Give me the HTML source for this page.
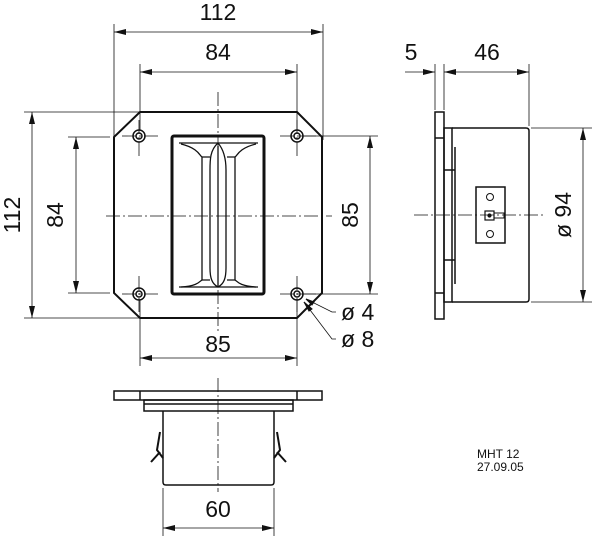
<!DOCTYPE html>
<html><head><style>body{margin:0;background:#fff}svg{display:block}text{font-family:"Liberation Sans",sans-serif;font-size:23px;fill:#111}</style></head>
<body>
<svg width="600" height="548" viewBox="0 0 600 548" xmlns="http://www.w3.org/2000/svg">
<defs>
<marker id="a" viewBox="0 0 12 6" refX="12" refY="3" markerWidth="12" markerHeight="6" orient="auto-start-reverse" markerUnits="userSpaceOnUse"><path d="M0,0L12,3L0,6z" fill="#111"/></marker>
</defs>
<g stroke="#111" fill="none">
<g stroke-width="0.8">
<line x1="114" y1="24" x2="114" y2="140"/><line x1="323" y1="24" x2="323" y2="140"/>
<line x1="140" y1="64" x2="140" y2="130"/><line x1="297" y1="64" x2="297" y2="130"/>
<line x1="24" y1="112" x2="140" y2="112"/><line x1="24" y1="318" x2="140" y2="318"/>
<line x1="68" y1="137" x2="110" y2="137"/><line x1="68" y1="293" x2="110" y2="293"/>
<line x1="300" y1="136" x2="378" y2="136"/><line x1="300" y1="294" x2="378" y2="294"/>
<line x1="140" y1="300" x2="140" y2="366"/><line x1="297" y1="300" x2="297" y2="366"/>
<line x1="435" y1="64" x2="435" y2="110"/><line x1="444" y1="64" x2="444" y2="110"/><line x1="529" y1="64" x2="529" y2="126"/>
<line x1="531" y1="128" x2="592" y2="128"/><line x1="531" y1="302" x2="592" y2="302"/>
<line x1="163" y1="488" x2="163" y2="536"/><line x1="274" y1="488" x2="274" y2="536"/>
</g>
<g stroke-width="0.8">
<line x1="114" y1="32" x2="323" y2="32" marker-start="url(#a)" marker-end="url(#a)"/>
<line x1="140" y1="72" x2="297" y2="72" marker-start="url(#a)" marker-end="url(#a)"/>
<line x1="32" y1="112" x2="32" y2="318" marker-start="url(#a)" marker-end="url(#a)"/>
<line x1="76" y1="137" x2="76" y2="293" marker-start="url(#a)" marker-end="url(#a)"/>
<line x1="370" y1="136" x2="370" y2="294" marker-start="url(#a)" marker-end="url(#a)"/>
<line x1="140" y1="358" x2="297" y2="358" marker-start="url(#a)" marker-end="url(#a)"/>
<line x1="405" y1="72" x2="435" y2="72" marker-end="url(#a)"/>
<line x1="444" y1="72" x2="529" y2="72" marker-start="url(#a)" marker-end="url(#a)"/>
<line x1="583" y1="128" x2="583" y2="302" marker-start="url(#a)" marker-end="url(#a)"/>
<line x1="163" y1="528" x2="274" y2="528" marker-start="url(#a)" marker-end="url(#a)"/>
<polyline points="336,312 332,312 306,299" /><polyline points="336,339 332,339 304,302"/>
</g>
<path d="M306,299l8,3l-2,3z M304,302l8,7l-3,2z" fill="#111"/>
<g stroke-width="0.8" stroke-dasharray="14,3,2,3">
<line x1="106" y1="216" x2="332" y2="216"/><line x1="218" y1="92" x2="218" y2="334"/>
<line x1="122" y1="136" x2="158" y2="136"/><line x1="280" y1="136" x2="316" y2="136"/>
<line x1="122" y1="294" x2="158" y2="294"/><line x1="280" y1="294" x2="316" y2="294"/>
<line x1="139" y1="120" x2="139" y2="158"/><line x1="297" y1="120" x2="297" y2="158"/>
<line x1="139" y1="276" x2="139" y2="312"/><line x1="297" y1="276" x2="297" y2="312"/>
<line x1="414" y1="215" x2="546" y2="215"/>
<line x1="218" y1="378" x2="218" y2="492"/>
</g>
<polygon points="140,112 297,112 322,137 322,293 297,318 140,318 114,293 114,137" stroke-width="2"/>
<rect x="172" y="136" width="92" height="158" rx="2" stroke-width="3"/>
<g stroke-width="1.3">
<path d="M179,143H258 M179,287H258"/>
<path d="M181,144C198,148 200,156 202,157V280C200,281 198,286 181,287"/>
<path d="M256,144C239,148 237,156 235,157V280C237,281 239,286 256,287"/>
<path d="M202,157H210M227,157H235M202,280H210M227,280H235"/>
<path d="M218,143C210,150 210,160 210,170V268C210,278 212,284 218,287C224,284 226,278 226,268V170C226,160 224,150 218,143"/>
<line x1="218" y1="146" x2="218" y2="286"/>
</g>
<g stroke-width="1.5">
<circle cx="139" cy="136" r="6"/><circle cx="139" cy="136" r="3"/>
<circle cx="297" cy="136" r="6"/><circle cx="297" cy="136" r="3"/>
<circle cx="139" cy="294" r="6"/><circle cx="139" cy="294" r="3"/>
<circle cx="297" cy="294" r="6"/><circle cx="297" cy="294" r="3"/>
</g>
<g stroke-width="1.5">
<rect x="435" y="112" width="9" height="207"/>
<line x1="435" y1="138" x2="444" y2="138"/><line x1="435" y1="293" x2="444" y2="293"/>
<rect x="444" y="128" width="8" height="174"/>
<path d="M452,128H526Q529,128 529,131V299Q529,302 526,302H452"/>
<line x1="455" y1="147" x2="455" y2="284"/>
<line x1="444" y1="170" x2="455" y2="170"/><line x1="444" y1="260" x2="455" y2="260"/>
<rect x="476" y="187" width="29" height="56"/>
<circle cx="490" cy="197" r="3.5" stroke-width="1"/><circle cx="490" cy="234" r="3.5" stroke-width="1"/>
<rect x="485" y="211" width="9" height="9" stroke-width="1.2"/>
<rect x="494" y="213" width="10" height="5" stroke-width="1"/>
</g>
<circle cx="489.5" cy="215.5" r="1.6" fill="#111"/>
<g stroke-width="1.5">
<rect x="114" y="391" width="208" height="9"/>
<line x1="140" y1="391" x2="140" y2="400"/><line x1="297" y1="391" x2="297" y2="400"/>
<rect x="144" y="400" width="149" height="11"/>
<line x1="144" y1="404" x2="293" y2="404"/>
<path d="M163,411V482Q163,485 166,485H271Q274,485 274,482V411"/>
<path d="M160,432L157,450L163,458M151,462L160,452M277,432L280,450L274,458M286,462L277,452" stroke-width="2"/>
</g>
</g>
<text x="218" y="20" text-anchor="middle">112</text>
<text x="218" y="60" text-anchor="middle">84</text>
<text x="218" y="352" text-anchor="middle">85</text>
<text x="218" y="517" text-anchor="middle">60</text>
<text x="411" y="60" text-anchor="middle">5</text>
<text x="487" y="60" text-anchor="middle">46</text>
<text x="341" y="320">ø 4</text>
<text x="341" y="347">ø 8</text>
<text transform="translate(20,215) rotate(-90)" text-anchor="middle">112</text>
<text transform="translate(63,215) rotate(-90)" text-anchor="middle">84</text>
<text transform="translate(358,215) rotate(-90)" text-anchor="middle">85</text>
<text transform="translate(571,215) rotate(-90)" text-anchor="middle">ø 94</text>
<text x="477" y="458" style="font-size:12px">MHT 12</text>
<text x="477" y="471" style="font-size:12px">27.09.05</text>
</svg>
</body></html>
